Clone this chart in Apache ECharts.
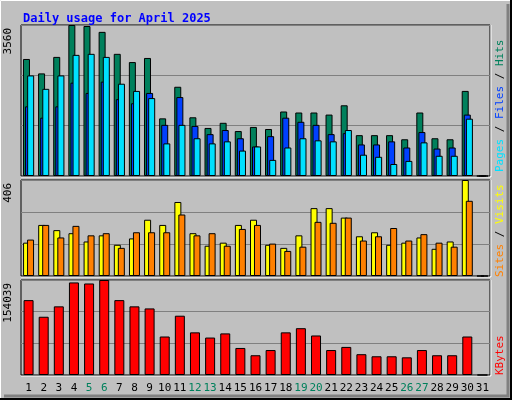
<!DOCTYPE html>
<html>
<head>
<meta charset="utf-8">
<script src="https://cdn.jsdelivr.net/npm/echarts@6/dist/echarts.min.js"></script>
<style>html,body{margin:0;padding:0;background:#c0c0c0;}#chart{width:512px;height:400px;}</style>
</head>
<body>
<div id="chart"></div>
<script>
// daily usage, April 2025
var days = [];
for (var d = 1; d <= 31; d++) days.push(String(d));
var weekendDays = ['5','6','12','13','19','20','26','27'];

var hits   = [2759,2419,2808,3560,3536,3398,2880,2686,2783,1359,2104,1384,1133,1254,1060,1157,1108,1521,1497,1497,1448,1667,963,963,963,866,1497,890,866,2006,0];
var files  = [1642,1375,1642,2201,1958,2225,1812,1715,1958,1206,1861,1181,987,1084,890,696,939,1375,1278,1206,987,1011,744,744,817,672,1036,647,672,1448,0];
var pages  = [2371,2055,2371,2856,2880,2808,2176,2006,1837,769,1206,890,769,817,599,696,380,672,890,841,817,1084,502,453,283,356,793,477,477,1351,0];
var sites  = [141,216,194,181,146,172,132,159,238,216,313,181,128,141,216,238,132,119,172,287,287,247,168,185,132,141,163,115,146,406,0];
var visits = [154,216,163,212,172,181,119,185,185,185,260,172,181,128,199,216,137,106,124,229,225,247,150,168,203,150,177,141,124,318,0];
var kbytes = [121430,94447,111312,150099,148413,154039,121430,111312,107939,62402,96133,69148,60716,67462,43850,32044,40477,69148,75894,64089,40477,45537,33731,30358,30358,28671,40477,32044,32044,62402,0];

var maxHits = 3560, maxSites = 406, maxKb = 154039;
var font = '"DejaVu Sans Mono", monospace';

var chart = echarts.init(document.getElementById('chart'));

function xAx(i, showLabels) {
    return {
        type: 'category', gridIndex: i, data: days, boundaryGap: true,
        axisLine: {show: false}, axisTick: {show: false},
        axisLabel: {
            show: showLabels, margin: 8, fontFamily: font, fontSize: 11, interval: 0,
            formatter: function (v) { return weekendDays.indexOf(v) >= 0 ? '{w|' + v + '}' : v; },
            color: '#000', rich: {w: {color: '#00805c', fontFamily: font, fontSize: 11}}
        }
    };
}
function yAx(i, max) {
    return {
        type: 'value', gridIndex: i, min: 0, max: max, interval: max / 3,
        axisLabel: {show: false}, axisLine: {show: false}, axisTick: {show: false},
        splitLine: {lineStyle: {color: '#808080', width: 1}}
    };
}
function bar(name, data, color, x, w, gap) {
    var s = {
        name: name, type: 'bar', xAxisIndex: x, yAxisIndex: x, data: data, barWidth: w,
        itemStyle: {color: color, borderColor: '#000', borderWidth: 1}, silent: true
    };
    if (gap) s.barGap = gap;
    return s;
}
function vtext(x, y, rich, text) {
    return {type: 'text', x: x, y: y, rotation: Math.PI / 2,
        style: {text: text, rich: rich, font: '11px ' + font, fill: '#000', align: 'left', verticalAlign: 'middle'}};
}

var option = {
    backgroundColor: '#c0c0c0',
    animation: false,
    title: {text: 'Daily usage for April 2025', left: 18, top: 8,
        textStyle: {color: '#0000ff', fontFamily: font, fontSize: 12, fontWeight: 'bold'}},
    grid: [
        {left: 21, right: 22, top: 25, height: 151, show: true, backgroundColor: '#c0c0c0', borderColor: '#000'},
        {left: 21, right: 22, top: 180, height: 96, show: true, backgroundColor: '#c0c0c0', borderColor: '#000'},
        {left: 21, right: 22, top: 280, height: 95, show: true, backgroundColor: '#c0c0c0', borderColor: '#000'}
    ],
    xAxis: [xAx(0, false), xAx(1, false), xAx(2, true)],
    yAxis: [yAx(0, maxHits), yAx(1, maxSites), yAx(2, maxKb)],
    series: [
        bar('Hits', hits, '#00805c', 0, 7, '-70%'),
        bar('Files', files, '#0040ff', 0, 7, '-70%'),
        bar('Pages', pages, '#00e0ff', 0, 7, '-70%'),
        bar('Sites', sites, '#ffff00', 1, 7, '-43%'),
        bar('Visits', visits, '#ff8000', 1, 7, '-43%'),
        bar('KBytes', kbytes, '#ff0000', 2, 10)
    ],
    graphic: [
        {type: 'rect', shape: {x: 0.5, y: 0.5, width: 510, height: 398}, style: {fill: 'none', stroke: '#fff', lineWidth: 1}, z: -1},
        {type: 'polyline', shape: {points: [[511, 0], [511, 399], [0, 399]]}, style: {stroke: '#000', lineWidth: 2, fill: 'none'}},
        {type: 'polyline', shape: {points: [[508, 4], [508, 396], [4, 396]]}, style: {stroke: '#808080', lineWidth: 3, fill: 'none'}},
        {type: 'polyline', shape: {points: [[21, 177], [491, 177], [491, 25]]}, style: {stroke: '#fff', lineWidth: 1, fill: 'none'}},
        {type: 'polyline', shape: {points: [[21, 277], [491, 277], [491, 180]]}, style: {stroke: '#fff', lineWidth: 1, fill: 'none'}},
        {type: 'polyline', shape: {points: [[21, 376], [491, 376], [491, 280]]}, style: {stroke: '#fff', lineWidth: 1, fill: 'none'}},
        {type: 'text', x: 8, y: 28, rotation: Math.PI / 2, style: {text: String(maxHits), font: '11px ' + font, fill: '#000', align: 'right', verticalAlign: 'middle'}},
        {type: 'text', x: 8, y: 183, rotation: Math.PI / 2, style: {text: String(maxSites), font: '11px ' + font, fill: '#000', align: 'right', verticalAlign: 'middle'}},
        {type: 'text', x: 8, y: 283, rotation: Math.PI / 2, style: {text: String(maxKb), font: '11px ' + font, fill: '#000', align: 'right', verticalAlign: 'middle'}},
        {type: 'text', x: 500, y: 172, rotation: Math.PI / 2, style: {
            text: '{p|Pages} / {f|Files} / {h|Hits}', font: '11px ' + font, fill: '#000', align: 'left', verticalAlign: 'middle',
            rich: {p: {fill: '#00e0ff', font: '11px ' + font}, f: {fill: '#0040ff', font: '11px ' + font}, h: {fill: '#00805c', font: '11px ' + font}}}},
        {type: 'text', x: 500, y: 277, rotation: Math.PI / 2, style: {
            text: '{s|Sites} / {v|Visits}', font: '11px ' + font, fill: '#000', align: 'left', verticalAlign: 'middle',
            rich: {s: {fill: '#ff8000', font: '11px ' + font}, v: {fill: '#ffff00', font: '11px ' + font}}}},
        {type: 'text', x: 500, y: 375, rotation: Math.PI / 2, style: {text: 'KBytes', font: '11px ' + font, fill: '#ff0000', align: 'left', verticalAlign: 'middle'}}
    ]
};
chart.setOption(option);
</script>
</body>
</html>
